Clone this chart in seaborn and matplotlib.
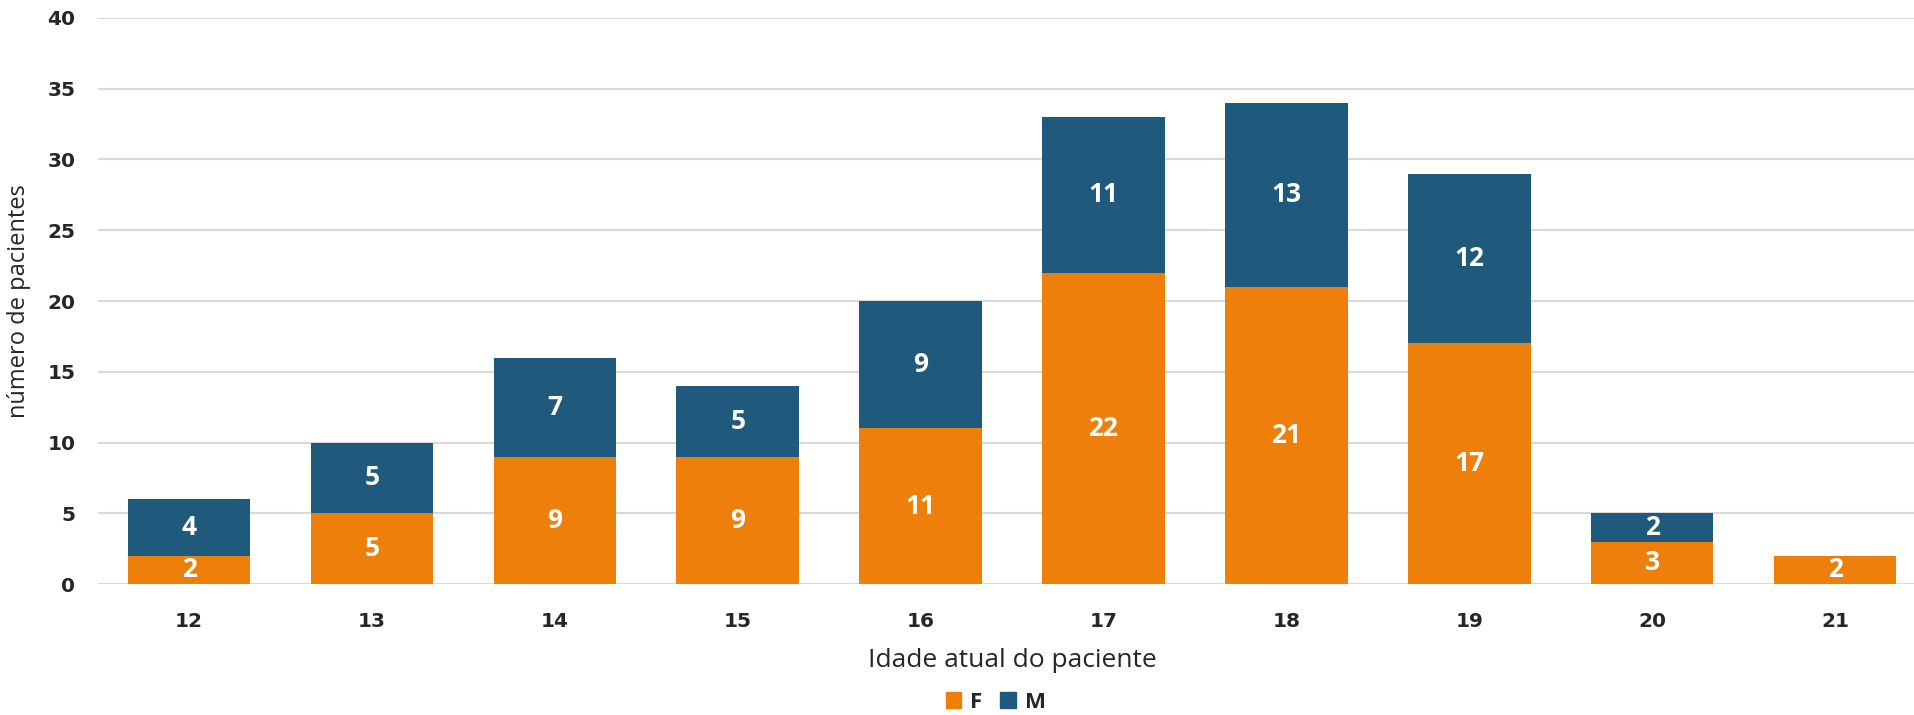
import pandas as pd
import matplotlib.pyplot as plt
import seaborn as sns
from matplotlib.patches import Patch

# dados do gráfico
idades = ['12', '13', '14', '15', '16', '17', '18', '19', '20', '21']
feminino = [2, 5, 9, 9, 11, 22, 21, 17, 3, 2]
masculino = [4, 5, 7, 5, 9, 11, 13, 12, 2, 0]

COR_F = '#EF7F0B'
COR_M = '#1F5A7C'

df = pd.DataFrame({'Idade': idades, 'F': feminino, 'M': masculino})
df['Total'] = df['F'] + df['M']

sns.set_style('white')
plt.rcParams['font.family'] = ['Open Sans', 'DejaVu Sans']

fig = plt.figure(figsize=(19.15, 7.15), dpi=100)
ax = fig.add_axes([0.051, 0.183, 0.955, 0.792])

# barras empilhadas: total (M) por baixo, F por cima
sns.barplot(data=df, x='Idade', y='Total', color=COR_M, width=0.67,
            saturation=1, linewidth=0, ax=ax, zorder=3)
sns.barplot(data=df, x='Idade', y='F', color=COR_F, width=0.67,
            saturation=1, linewidth=0, ax=ax, zorder=4)

# rótulos
for i, (f, m) in enumerate(zip(feminino, masculino)):
    if f > 0:
        ax.text(i, f / 2, str(f), ha='center', va='center', color='white',
                fontsize=19, fontweight='bold', zorder=5)
    if m > 0:
        ax.text(i, f + m / 2, str(m), ha='center', va='center', color='white',
                fontsize=19, fontweight='bold', zorder=5)

ax.set_ylim(0, 40)
ax.set_xlim(-0.5, 9.5)
ax.set_yticks(range(0, 41, 5))
ax.yaxis.grid(True, color='#D9D9D9', linewidth=1.5, zorder=0)
ax.set_axisbelow(True)
for s in ax.spines.values():
    s.set_visible(False)

ax.tick_params(axis='both', length=0)
ax.tick_params(axis='y', pad=16)
ax.tick_params(axis='x', pad=20)
for lbl in ax.get_xticklabels() + ax.get_yticklabels():
    lbl.set_family('DejaVu Sans')
    lbl.set_fontweight('bold')
    lbl.set_fontsize(14.5)

ax.set_xlabel('Idade atual do paciente', fontsize=19, labelpad=12)
ax.set_ylabel('número de pacientes', fontsize=17, labelpad=12)

handles = [Patch(color=COR_F, label='F'), Patch(color=COR_M, label='M')]
leg = fig.legend(handles=handles, loc='lower center', ncol=2, frameon=False,
                 bbox_to_anchor=(0.52, -0.025), handlelength=0.7, handleheight=0.7,
                 handletextpad=0.4, columnspacing=0.8,
                 prop={'weight': 'bold', 'size': 16})

fig.savefig('out.png', dpi=100)
